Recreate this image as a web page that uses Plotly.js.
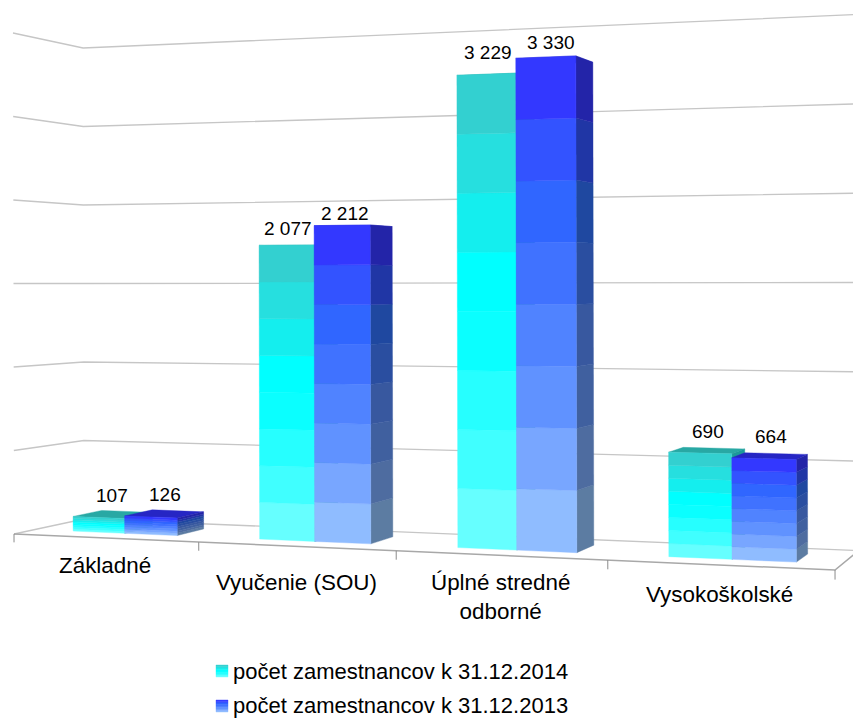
<!DOCTYPE html>
<html>
<head>
<meta charset="utf-8">
<script src="https://cdn.plot.ly/plotly-3.0.1.min.js"></script>
<style>html,body{margin:0;padding:0;background:#fff}</style>
</head>
<body>
<div id="chart" style="width:853px;height:718px"></div>
<script>
// ---- data ----
const categories = ["Základné", "Vyučenie (SOU)", "Úplné stredné<br>odborné", "Vysokoškolské"];
const series2014 = [107, 2077, 3229, 690];
const series2013 = [126, 2212, 3330, 664];
const labels2014 = ["107", "2 077", "3 229", "690"];
const labels2013 = ["126", "2 212", "3 330", "664"];
const legendNames = ["počet zamestnancov k 31.12.2014", "počet zamestnancov k 31.12.2013"];
const gridValues = [0, 600, 1200, 1800, 2400, 3000, 3600];

// ---- styles (bands listed bottom to top) ----
const cyanFront = ["#66ffff", "#40ffff", "#26ffff", "#0affff", "#00ffff", "#14eeee", "#26dfdf", "#33d0d0"];
const blueFront = ["#8fbcff", "#78a6ff", "#6092ff", "#5083ff", "#4072ff", "#3066ff", "#3353ff", "#3338ff"];
const blueSide  = ["#5c7ca2", "#4e6ca0", "#40609f", "#38589f", "#2a4ea0", "#1f48a0", "#2036a5", "#2324a8"];
const cyanTop = "#28a8a4", blueTop = "#2626c4";

// ---- perspective of the 3D chart box: u across (0..1), d into depth (0..1), value up ----
const valueMax = 3600;
function project(u, d, value) {
  const v = value / valueMax;
  const w = 1 - 0.129 * u + 0.0637 * d;
  return [(14 + 713.3 * u + 75.35 * d - v) / w, (534 - 37.5 * u + 18.06 * d - 501 * v) / w];
}
const barDepthFront = 0.29, barDepthBack = 0.71, barWidth = 0.0715, barScale = 0.995;
const clusterShift = [0, 0.0026, 0.0038, 0.0036];

const traces = [];
function path(points, color, width) {
  traces.push({type: "scatter", mode: "lines", x: points.map(p => p[0]), y: points.map(p => p[1]),
    line: {color: color, width: width}, hoverinfo: "skip"});
}
function poly(points, color) {
  const closed = points.concat([points[0]]);
  traces.push({type: "scatter", mode: "lines", x: closed.map(p => p[0]), y: closed.map(p => p[1]),
    fill: "toself", fillcolor: color, line: {color: color, width: 0.4}, hoverinfo: "skip"});
}

// gridlines on left and back walls
gridValues.forEach(g => path([project(0, 0, g), project(0, 1, g), project(1, 1, g)], "#c6c6c6", 1.3));
// floor front edge, right edge, ticks
path([project(0, 0, 0), project(1, 0, 0), project(1, 1, 0)], "#a8a8a8", 1.5);
[0, 1, 2, 3, 4].forEach(k => path([project(k / 4, 0, 0), project(k / 4, 0, -60)], "#8c8c8c", 1));

function bar(u0, u1, rawValue, front, side, top) {
  const value = rawValue * barScale;
  const d0 = barDepthFront, d1 = barDepthBack;
  poly([project(u0, d0, value), project(u0, d1, value), project(u1, d1, value), project(u1, d0, value)], top);
  const n = front.length;
  for (let b = 0; b < n; b++) {
    const lo = value * b / n, hi = value * (b + 1) / n;
    poly([project(u1, d0, lo), project(u1, d1, lo), project(u1, d1, hi), project(u1, d0, hi)], side[b]);
  }
  for (let b = 0; b < n; b++) {
    const lo = value * b / n, hi = value * (b + 1) / n;
    poly([project(u0, d0, lo), project(u1, d0, lo), project(u1, d0, hi), project(u0, d0, hi)], front[b]);
  }
}
const cyanSide = cyanFront.map(() => "#1c9a9a");
categories.forEach((c, i) => {
  const mid = (i + 0.5) / 4 + clusterShift[i];
  bar(mid - barWidth, mid, series2014[i], cyanFront, cyanSide, cyanTop);
  bar(mid, mid + barWidth, series2013[i], blueFront, blueSide, blueTop);
});

// legend swatches
function swatch(x, y, colors) {
  const s = 12, n = colors.length;
  colors.forEach((col, b) => {
    const y1 = y + s - s * b / n, y0 = y + s - s * (b + 1) / n;
    poly([[x, y0], [x + s, y0], [x + s, y1], [x, y1]], col);
  });
}
swatch(216, 665, cyanFront);
swatch(216, 700, blueFront);

// ---- text ----
const annotations = [];
function text(x, y, t, size, align) {
  annotations.push({xref: "x", yref: "y", x: x, y: y, text: t, showarrow: false, xanchor: align, yanchor: "middle",
    font: {family: "Liberation Sans, Arial, sans-serif", size: size, color: "#000"}});
}
const labelOffset = [28, 36, 42, 30];
categories.forEach((c, i) => {
  const p = project((i + 0.5) / 4, 0, 0);
  text(p[0] + (i === 1 ? 1 : 0), p[1] + labelOffset[i], c, 22.4, "center");
});
const nudge2014 = [[-1, -1], [-9, 2], [-5, -4], [4, 0]];
const nudge2013 = [[1, -4], [-6, 4], [-1, 0], [4, -4]];
categories.forEach((c, i) => {
  const mid = (i + 0.5) / 4;
  const a = project(mid - barWidth / 2, 0.5, series2014[i]);
  const b = project(mid + barWidth / 2, 0.5, series2013[i]);
  text(a[0] + nudge2014[i][0], a[1] - 18 + nudge2014[i][1], labels2014[i], 19, "center");
  text(b[0] + nudge2013[i][0], b[1] - 15 + nudge2013[i][1], labels2013[i], 19, "center");
});
text(231, 671, legendNames[0], 22, "left");
text(231, 705.5, legendNames[1], 22, "left");

Plotly.newPlot("chart", traces, {
  width: 853, height: 718, margin: {l: 0, r: 0, t: 0, b: 0},
  paper_bgcolor: "#fff", plot_bgcolor: "#fff", showlegend: false, hovermode: false,
  xaxis: {range: [0, 853], visible: false, fixedrange: true},
  yaxis: {range: [718, 0], visible: false, fixedrange: true},
  annotations: annotations
}, {displayModeBar: false, staticPlot: true});
</script>
</body>
</html>
